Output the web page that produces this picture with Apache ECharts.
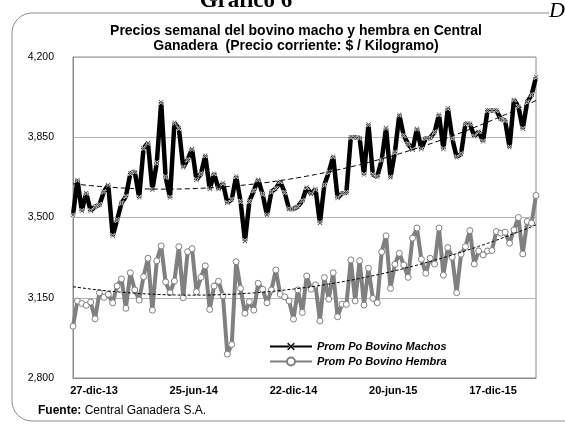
<!DOCTYPE html>
<html>
<head>
<meta charset="utf-8">
<script src="https://cdn.jsdelivr.net/npm/echarts@6.0.0/dist/echarts.min.js"></script>
<style>
html, body { margin: 0; padding: 0; background: #fff; }
#chart { width: 565px; height: 425px; }
</style>
</head>
<body>
<div id="chart"></div>
<script>
// etiquetas del eje x
const xTickLabels = ['27-dic-13', '25-jun-14', '22-dic-14', '20-jun-15', '17-dic-15']
const yTicks = [2800, 3150, 3500, 3850, 4200]

// precio semanal ($/kg) desde 27-dic-13
const machos = [
    3510, 3664, 3529, 3607, 3529, 3547, 3556, 3612, 3642, 3420,
    3489, 3563, 3592, 3692, 3700, 3587, 3802, 3825, 3621, 3738,
    4003, 3677, 3587, 3913, 3889, 3719, 3752, 3799, 3664, 3690,
    3770, 3624, 3692, 3624, 3649, 3564, 3579, 3679, 3570, 3398,
    3570, 3617, 3665, 3602, 3510, 3612, 3627, 3657, 3609, 3537,
    3537, 3548, 3573, 3631, 3602, 3624, 3476, 3642, 3697, 3766,
    3585, 3605, 3609, 3850, 3850, 3847, 3687, 3906, 3687, 3678,
    3751, 3891, 3675, 3784, 3948, 3857, 3821, 3795, 3887, 3799,
    3846, 3847, 3872, 3949, 3799, 3977, 3846, 3763, 3777, 3909,
    3909, 3854, 3875, 3832, 3967, 3967, 3967, 3930, 3923, 3806,
    4014, 3984, 3887, 4003, 4035, 4112
]
const hembra = [
    3026, 3136, 3125, 3117, 3131, 3058, 3172, 3152, 3165, 3128,
    3201, 3232, 3104, 3259, 3184, 3140, 3242, 3322, 3096, 3311,
    3376, 3219, 3172, 3223, 3373, 3150, 3351, 3364, 3176, 3239,
    3289, 3099, 3201, 3222, 3159, 2904, 2946, 3307, 3191, 3082,
    3133, 3096, 3213, 3187, 3128, 3184, 3271, 3165, 3154, 3136,
    3057, 3184, 3086, 3245, 3187, 3206, 3049, 3238, 3144, 3259,
    3067, 3122, 3121, 3315, 3136, 3312, 3118, 3279, 3147, 3128,
    3350, 3420, 3191, 3296, 3344, 3293, 3239, 3410, 3454, 3318,
    3257, 3322, 3297, 3454, 3249, 3369, 3327, 3172, 3340, 3373,
    3443, 3297, 3354, 3337, 3354, 3356, 3439, 3432, 3436, 3388,
    3446, 3500, 3341, 3483, 3476, 3596
]

const font = '"Liberation Sans", Arial, sans-serif'
const xMark = 'path://M0,1.5L1.5,0L5,3.5L8.5,0L10,1.5L6.5,5L10,8.5L8.5,10L5,6.5L1.5,10L0,8.5L3.5,5Z'

// tendencia polinomica de grado 2 (minimos cuadrados), como la de Excel
function polyTrend (ys) {
    const s = [0, 0, 0, 0, 0]
    const t = [0, 0, 0]
    ys.forEach(function (y, x) {
        for (let k = 0; k < 5; k++) s[k] += Math.pow(x, k)
        for (let k = 0; k < 3; k++) t[k] += y * Math.pow(x, k)
    })
    const m = [
        [s[0], s[1], s[2], t[0]],
        [s[1], s[2], s[3], t[1]],
        [s[2], s[3], s[4], t[2]]
    ]
    for (let i = 0; i < 3; i++) {
        for (let j = i + 1; j < 3; j++) {
            const f = m[j][i] / m[i][i]
            for (let k = i; k < 4; k++) m[j][k] -= f * m[i][k]
        }
    }
    const c = [0, 0, 0]
    for (let i = 2; i >= 0; i--) {
        let v = m[i][3]
        for (let k = i + 1; k < 3; k++) v -= m[i][k] * c[k]
        c[i] = v / m[i][i]
    }
    return ys.map(function (y, x) { return [x, c[0] + c[1] * x + c[2] * x * x] })
}

function pairs (ys) {
    return ys.map(function (y, x) { return [x, y] })
}

const chart = echarts.init(document.getElementById('chart'))
chart.setOption({
    backgroundColor: '#fff',
    animation: false,
    grid: [
        {
            left: 73,
            right: 29,
            top: 57,
            bottom: 47,
            show: true,
            borderColor: '#8c8c8c',
            borderWidth: 1,
            outerBoundsMode: 'none'
        },
        // solo para las etiquetas de fecha
        {
            left: 94,
            right: 72,
            top: 57,
            bottom: 47,
            show: false,
            outerBoundsMode: 'none'
        }
    ],
    legend: {
        orient: 'vertical',
        left: 264,
        top: 336,
        itemWidth: 42,
        itemHeight: 10,
        itemGap: 4,
        data: [
            {
                name: 'Prom Po Bovino Machos',
                itemStyle: { color: '#000', borderColor: '#fff', borderWidth: 0.4 }
            },
            'Prom Po Bovino Hembra'
        ],
        textStyle: {
            fontFamily: font,
            fontSize: 11,
            fontWeight: 'bold',
            fontStyle: 'italic',
            color: '#000'
        }
    },
    xAxis: [
        {
            type: 'value',
            min: 0,
            max: machos.length - 1,
            axisLine: { show: true, lineStyle: { color: '#8c8c8c' } },
            axisTick: { show: false },
            splitLine: { show: false },
            axisLabel: { show: false }
        },
        {
            type: 'category',
            gridIndex: 1,
            data: xTickLabels,
            boundaryGap: false,
            axisLine: { show: false },
            axisTick: { show: false },
            splitLine: { show: false },
            axisLabel: {
                interval: 0,
                margin: 7,
                fontFamily: font,
                fontSize: 11,
                fontWeight: 'bold',
                color: '#000'
            }
        }
    ],
    yAxis: [
        {
            type: 'value',
            min: yTicks[0],
            max: yTicks[yTicks.length - 1],
            interval: yTicks[1] - yTicks[0],
            axisLine: { show: true, lineStyle: { color: '#8c8c8c' } },
            axisTick: { show: false },
            splitLine: { show: true, lineStyle: { color: '#b4b4b4', width: 1 } },
            axisLabel: {
                margin: 19,
                fontFamily: font,
                fontSize: 10.5,
                color: '#000',
                formatter: function (v) { return v.toLocaleString('en-US') }
            }
        },
        {
            type: 'value',
            gridIndex: 1,
            show: false
        }
    ],
    series: [
        {
            name: 'Prom Po Bovino Hembra',
            type: 'line',
            data: pairs(hembra),
            symbol: 'circle',
            symbolSize: 6,
            lineStyle: { color: '#808080', width: 4 },
            itemStyle: { color: '#fff', borderColor: '#808080', borderWidth: 1 },
            z: 2
        },
        {
            name: 'Prom Po Bovino Machos',
            type: 'line',
            data: pairs(machos),
            symbol: xMark,
            symbolSize: 5,
            lineStyle: { color: '#000', width: 4.5 },
            itemStyle: { color: '#000', borderColor: '#fff', borderWidth: 0.8 },
            z: 3
        },
        {
            name: 'tendencia hembra',
            type: 'line',
            data: polyTrend(hembra),
            showSymbol: false,
            silent: true,
            lineStyle: { color: '#000', width: 1, type: [3, 2] },
            z: 4
        },
        {
            name: 'tendencia machos',
            type: 'line',
            data: polyTrend(machos),
            showSymbol: false,
            silent: true,
            lineStyle: { color: '#000', width: 1, type: [5, 3] },
            z: 4
        }
    ],
    graphic: [
        {
            type: 'rect',
            shape: { x: 12, y: 13, width: 620, height: 408, r: 20 },
            style: { fill: 'none', stroke: '#8c8c8c', lineWidth: 1 },
            z: -10
        },
        {
            type: 'text',
            style: { text: 'Gráfico 6', x: 246, y: 13, textAlign: 'center', textVerticalAlign: 'bottom', font: 'bold 23px "Liberation Serif", "Times New Roman", serif', fill: '#000' }
        },
        {
            type: 'text',
            style: { text: 'D', x: 549, y: 11, textAlign: 'left', textVerticalAlign: 'middle', font: 'italic 22px "Liberation Serif", "Times New Roman", serif', fill: '#000', backgroundColor: '#fff' }
        },
        {
            type: 'text',
            style: { text: 'Precios semanal del bovino macho y hembra en Central', x: 296, y: 31, textAlign: 'center', textVerticalAlign: 'middle', font: 'bold 14px ' + font, fill: '#000' }
        },
        {
            type: 'text',
            style: { text: 'Ganadera  (Precio corriente: $ / Kilogramo)', x: 296, y: 46, textAlign: 'center', textVerticalAlign: 'middle', font: 'bold 14px ' + font, fill: '#000' }
        },
        {
            type: 'text',
            style: {
                text: '{b|Fuente:} Central Ganadera S.A.',
                x: 38,
                y: 411,
                textVerticalAlign: 'middle',
                font: '12px ' + font,
                fill: '#000',
                rich: { b: { fontWeight: 'bold', fontFamily: font, fontSize: 12 } }
            }
        }
    ]
})

window.addEventListener('resize', function () {
    chart.resize()
})
</script>
</body>
</html>
